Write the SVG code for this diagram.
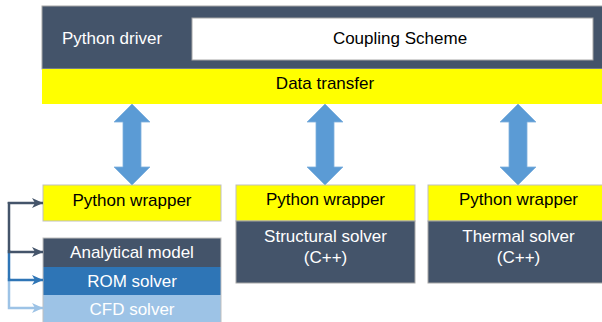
<svg xmlns="http://www.w3.org/2000/svg" width="602" height="322" viewBox="0 0 602 322">
<defs>
<style>
text{font-family:"Liberation Sans",Arial,sans-serif;font-size:17px;text-anchor:middle}
.w{fill:#FFFFFF}
.k{fill:#000000}
.dark{fill:#44546A;stroke:#A6A6A6;stroke-width:1}
.yel{fill:#FFFF00;stroke:#BFBFBF;stroke-width:1}
.blk{fill:#5B9BD5;stroke:#7FB0DD;stroke-width:0.8}
.ln{fill:none;stroke-width:2.5}
</style>
<polygon id="dbl" points="0,0 18,18 9,18 9,63 18,63 0,81 -18,63 -9,63 -9,18 -18,18"/>
<marker id="mD" markerUnits="userSpaceOnUse" markerWidth="12" markerHeight="12" viewBox="0 0 12 12" refX="11" refY="6" orient="auto"><path d="M0,1 L11,6 L0,11 L3,6 Z" fill="#44546A"/></marker>
<marker id="mB" markerUnits="userSpaceOnUse" markerWidth="12" markerHeight="12" viewBox="0 0 12 12" refX="11" refY="6" orient="auto"><path d="M0,1 L11,6 L0,11 L3,6 Z" fill="#2E75B6"/></marker>
<marker id="mL" markerUnits="userSpaceOnUse" markerWidth="12" markerHeight="12" viewBox="0 0 12 12" refX="11" refY="6" orient="auto"><path d="M0,1 L11,6 L0,11 L3,6 Z" fill="#9DC3E6"/></marker>
</defs>
<rect width="602" height="322" fill="#FFFFFF"/>

<g id="driver">
<rect class="dark" x="42" y="6" width="570" height="63"/>
<text class="w" x="112" y="44">Python driver</text>
</g>
<g id="coupling-scheme">
<rect x="192" y="18" width="401" height="42" fill="#FFFFFF" stroke="#A6A6A6" stroke-width="1"/>
<text class="k" x="400" y="44">Coupling Scheme</text>
</g>
<g id="data-transfer">
<rect x="42" y="69" width="570" height="35" fill="#FFFF00"/>
<text class="k" x="325" y="89">Data transfer</text>
</g>

<g id="wrapper-1">
<rect class="yel" x="43" y="185" width="178" height="36"/>
<text class="k" x="132" y="206">Python wrapper</text>
</g>
<g id="analytical-model">
<rect x="43" y="238" width="178" height="29" fill="#44546A"/>
<text class="w" x="132" y="258">Analytical model</text>
</g>
<g id="rom-solver">
<rect x="43" y="267" width="178" height="28" fill="#2E75B6"/>
<text class="w" x="132" y="287">ROM solver</text>
</g>
<g id="cfd-solver">
<rect x="43" y="295" width="178" height="30" fill="#9DC3E6"/>
<text class="w" x="132" y="315">CFD solver</text>
</g>
<rect x="43" y="238" width="178" height="90" fill="none" stroke="#BFBFBF" stroke-width="1"/>

<g id="wrapper-2">
<rect class="yel" x="236" y="185" width="179" height="36"/>
<text class="k" x="325.5" y="205">Python wrapper</text>
</g>
<g id="structural-solver">
<rect class="dark" x="236" y="221" width="179" height="62"/>
<text class="w" x="325.5" y="242">Structural solver</text>
<text class="w" x="325.5" y="263">(C++)</text>
</g>

<g id="wrapper-3">
<rect class="yel" x="428" y="185" width="181" height="36"/>
<text class="k" x="518.5" y="205">Python wrapper</text>
</g>
<g id="thermal-solver">
<rect class="dark" x="428" y="221" width="181" height="62"/>
<text class="w" x="518.5" y="242">Thermal solver</text>
<text class="w" x="518.5" y="263">(C++)</text>
</g>

<g id="connectors">
<use href="#dbl" class="blk" x="132" y="104"/>
<use href="#dbl" class="blk" x="325" y="104"/>
<use href="#dbl" class="blk" x="518" y="104"/>
<path class="ln" stroke="#9DC3E6" d="M9,278 V308 H43" marker-end="url(#mL)"/>
<path class="ln" stroke="#2E75B6" d="M9,250 V280 H43" marker-end="url(#mB)"/>
<path class="ln" stroke="#44546A" d="M9,202 V252 H43" marker-end="url(#mD)"/>
<path class="ln" stroke="#44546A" d="M9,204 V203 H43" marker-end="url(#mD)"/>
</g>
</svg>
